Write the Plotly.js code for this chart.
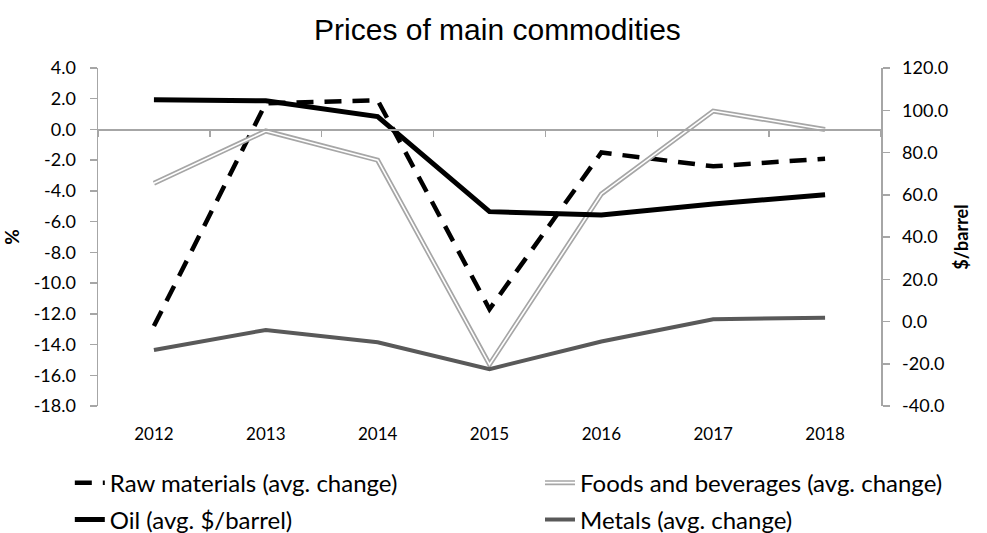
<!DOCTYPE html>
<html>
<head>
<meta charset="utf-8">
<script src="https://cdn.plot.ly/plotly-3.0.1.min.js"></script>
<style>html,body{margin:0;padding:0;background:#fff;}#chart{width:987px;height:533px;}</style>
</head>
<body>
<div id="chart"></div>
<script>
// ---- data ----
var years = ['2012', '2013', '2014', '2015', '2016', '2017', '2018'];
var rawMaterials = [-12.8, 1.7, 1.9, -11.7, -1.5, -2.4, -1.9];
var foodsBeverages = [-3.5, -0.1, -2.0, -15.3, -4.2, 1.2, 0.0];
var oilPrice = [105.0, 104.5, 97.0, 52.0, 50.4, 55.6, 60.0];
var metals = [-14.35, -13.05, -13.85, -15.6, -13.8, -12.35, -12.25];

var seriesNames = ['Raw materials (avg. change)', 'Foods and beverages (avg. change)', 'Oil (avg. $/barrel)', 'Metals (avg. change)'];
var chartTitle = 'Prices of main commodities';
var leftAxisTitle = '%';
var rightAxisTitle = '$/barrel';

var leftTicks = [4, 2, 0, -2, -4, -6, -8, -10, -12, -14, -16, -18];
var rightTicks = [120, 100, 80, 60, 40, 20, 0, -20, -40];

var leftRange = [-18, 4];
var rightRange = [-40, 120];

var axisGray = '#a6a6a6';
var tickFont = {family: 'Lato, sans-serif', size: 18, color: '#000'};
var legendFont = {family: 'Lato, sans-serif', size: 24, color: '#000'};

var traces = [
  {x: years, y: rawMaterials, name: seriesNames[0], type: 'scatter', mode: 'lines',
   line: {color: '#000', width: 4.5, dash: '17px,11px'}, legend: 'legend', hoverinfo: 'skip'},
  {x: years, y: foodsBeverages, name: seriesNames[1], type: 'scatter', mode: 'lines',
   line: {color: axisGray, width: 5}, legend: 'legend2', hoverinfo: 'skip'},
  {x: years, y: foodsBeverages, name: ' ', type: 'scatter', mode: 'lines',
   line: {color: '#fff', width: 1.6}, legend: 'legend5', hoverinfo: 'skip'},
  {x: years, y: oilPrice, name: seriesNames[2], type: 'scatter', mode: 'lines', yaxis: 'y2',
   line: {color: '#000', width: 5}, legend: 'legend3', hoverinfo: 'skip'},
  {x: years, y: metals, name: seriesNames[3], type: 'scatter', mode: 'lines', xaxis: 'x2',
   line: {color: '#595959', width: 4}, legend: 'legend4', hoverinfo: 'skip'}
];

var catRange = [-0.5, years.length - 0.5];
var zeroPos = (0 - leftRange[0]) / (leftRange[1] - leftRange[0]);

function legendAt(x, y) {
  return {orientation: 'h', x: x, xanchor: 'left', y: y, yanchor: 'middle',
          font: legendFont, bgcolor: 'rgba(0,0,0,0)', borderwidth: 0};
}

var layout = {
  width: 987, height: 533,
  margin: {l: 98, r: 106, t: 68, b: 127, autoexpand: false},
  paper_bgcolor: '#fff', plot_bgcolor: '#fff',
  showlegend: true,
  title: {text: chartTitle, font: {family: 'Liberation Sans, Arial, sans-serif', size: 30, color: '#000'},
          xref: 'container', x: 0.504, xanchor: 'center', yref: 'container', y: 1 - 29/533, yanchor: 'middle'},
  xaxis: {type: 'category', categoryorder: 'array', categoryarray: years, range: catRange,
          showline: false, ticks: '', showgrid: false, zeroline: false,
          tickfont: {family: 'Lato, sans-serif', size: 17, color: '#000'}, ticklabelstandoff: 16},
  xaxis2: {type: 'category', categoryorder: 'array', categoryarray: years, range: catRange,
           overlaying: 'x', anchor: 'free', position: zeroPos,
           showline: true, linecolor: axisGray, linewidth: 1.5,
           ticks: 'outside', tickson: 'boundaries', ticklen: 6, tickcolor: axisGray, tickwidth: 1.5,
           showticklabels: false, showgrid: false, zeroline: false},
  yaxis: {range: leftRange, tickmode: 'array', tickvals: leftTicks, ticktext: leftTicks.map(function (v) { return v.toFixed(1); }),
          showline: true, linecolor: axisGray, linewidth: 1.5,
          ticks: 'outside', ticklen: 7, tickcolor: axisGray, tickwidth: 1.5, showgrid: false, zeroline: false,
          tickfont: tickFont, ticklabelstandoff: 10,
          title: {text: leftAxisTitle, font: {family: 'Lato, sans-serif', size: 19, color: '#000', weight: 'bold'}, standoff: 9}},
  yaxis2: {range: rightRange, tickmode: 'array', tickvals: rightTicks, ticktext: rightTicks.map(function (v) { return v.toFixed(1); }),
           overlaying: 'y', side: 'right',
           showline: true, linecolor: axisGray, linewidth: 1.5,
           ticks: 'outside', ticklen: 7, tickcolor: axisGray, tickwidth: 1.5, showgrid: false, zeroline: false,
           tickfont: tickFont, ticklabelstandoff: 9,
           title: {text: rightAxisTitle, font: {family: 'Lato, sans-serif', size: 18, color: '#000', weight: 'bold'}, standoff: 8}},
  legend: legendAt(-0.036, -0.228),
  legend2: legendAt(0.5645, -0.228),
  legend5: legendAt(0.5645, -0.228),
  legend3: legendAt(-0.036, -0.337),
  legend4: legendAt(0.5645, -0.337)
};

Plotly.newPlot('chart', traces, layout, {displayModeBar: false, staticPlot: true});
</script>
</body>
</html>
